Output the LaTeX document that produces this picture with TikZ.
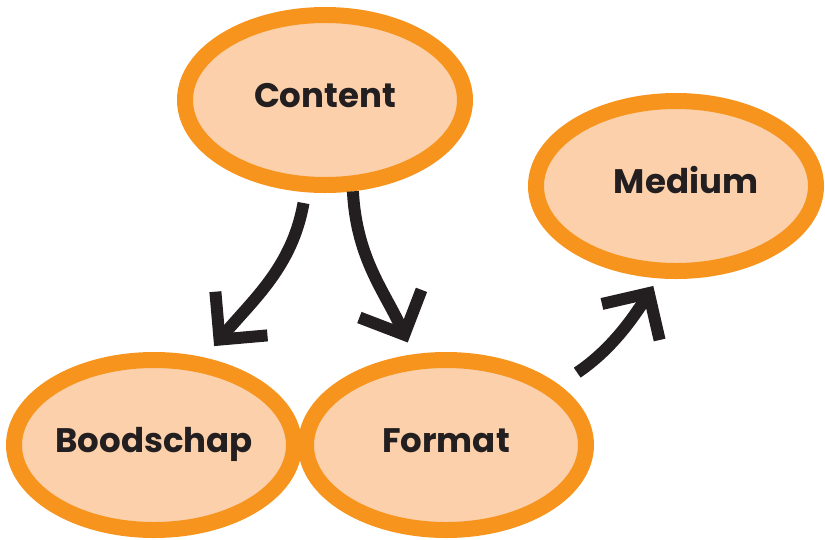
\documentclass[tikz,border=0pt]{standalone}
\usepackage{fontspec}
\setmainfont{Poppins}
\usetikzlibrary{shapes.geometric,arrows.meta}
\definecolor{orng}{HTML}{F7941D}
\definecolor{peach}{HTML}{FBD0AA}
\definecolor{ink}{HTML}{231F20}
\begin{document}
\begin{tikzpicture}[x=1pt,y=1pt,
  bubble/.style={ellipse, draw=orng, fill=peach, line width=16pt,
    minimum width=280pt, minimum height=170pt, inner sep=0pt,
    font=\fontsize{34}{40}\selectfont\bfseries, text=ink,
    text height=24pt, text depth=10pt},
  flow/.style={draw=ink, line width=12pt,
    -{Straight Barb[length=34pt,width=68pt]}}]
\useasboundingbox (0,0) rectangle (825,-539);
\node[bubble] (content) at (325,-100) {Content};
\node[bubble] (medium) at (676,-186) {\hspace*{20pt}Medium};
\node[bubble] (boodschap) at (154,-445) {Boodschap};
\node[bubble] (format) at (446,-445) {Format};
\draw[flow, shorten <=11pt, shorten >=15pt] (content.258) to[out=260,in=50] (boodschap.60);
\draw[flow, shorten >=13pt] (content.287) to[out=273,in=114] (format.110);
\draw[flow, shorten <=22pt, shorten >=9pt] (format.28) to[out=34,in=238] (medium.259);
\end{tikzpicture}
\end{document}
